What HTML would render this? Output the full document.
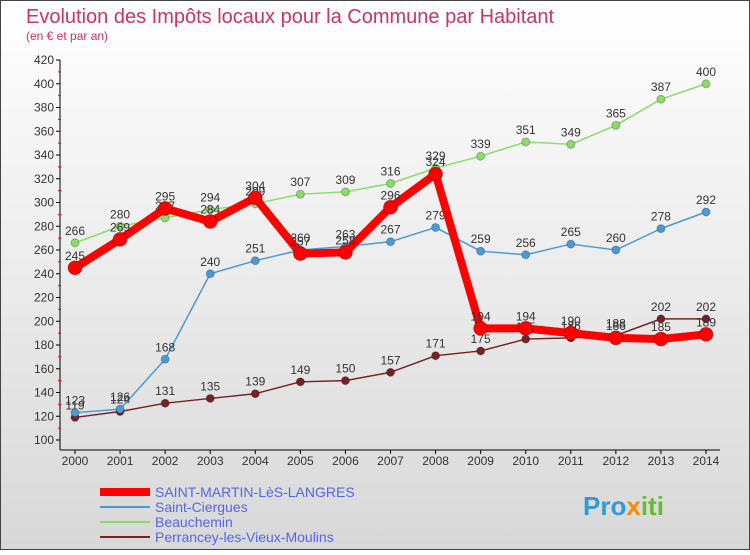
<!DOCTYPE html>
<html><head><meta charset="utf-8"><style>
body{margin:0;width:750px;height:550px;overflow:hidden;font-family:"Liberation Sans",sans-serif}
</style></head><body>
<svg width="750" height="550" xmlns="http://www.w3.org/2000/svg">
<defs><linearGradient id="bg" x1="0" y1="0" x2="0" y2="1"><stop offset="0" stop-color="#ffffff"/><stop offset="1" stop-color="#d8d8d8"/></linearGradient></defs>
<rect x="0.5" y="0.5" width="749" height="549" fill="url(#bg)" stroke="#444"/>
<text x="26" y="23" font-size="20" fill="#cc3366">Evolution des Impôts locaux pour la Commune par Habitant</text>
<text x="26" y="40" font-size="12" fill="#cc3366">(en € et par an)</text>
<g id="axes"></g><g id="series"></g>
<g>
<line x1="100" y1="492" x2="150" y2="492" stroke="#ff0000" stroke-width="8"/><text x="155" y="497" font-size="14" fill="#5566ee">SAINT-MARTIN-LèS-LANGRES</text>
<line x1="100" y1="507" x2="150" y2="507" stroke="#4a9ad8" stroke-width="2"/><text x="155" y="512" font-size="14" fill="#5566ee">Saint-Ciergues</text>
<line x1="100" y1="522" x2="150" y2="522" stroke="#88dd66" stroke-width="2"/><text x="155" y="527" font-size="14" fill="#5566ee">Beauchemin</text>
<line x1="100" y1="537" x2="150" y2="537" stroke="#772222" stroke-width="2"/><text x="155" y="542" font-size="14" fill="#5566ee">Perrancey-les-Vieux-Moulins</text>
</g>
<text x="583" y="515" font-size="26" font-weight="bold" fill="#3399dd">Pro<tspan fill="#ff8800">x</tspan><tspan fill="#66bb33">iti</tspan></text>
</svg>
<script>
const years=[2000,2001,2002,2003,2004,2005,2006,2007,2008,2009,2010,2011,2012,2013,2014];
const yTicks=[100,120,140,160,180,200,220,240,260,280,300,320,340,360,380,400,420];
const sml=[245,269,295,284,304,257,258,296,324,194,194,190,186,185,189];
const ciergues=[123,126,168,240,251,260,263,267,279,259,256,265,260,278,292];
const beauchemin=[266,280,287,294,299,307,309,316,329,339,351,349,365,387,400];
const perrancey=[119,124,131,135,139,149,150,157,171,175,185,186,188,202,202];
const NS="http://www.w3.org/2000/svg";
const X=i=>75+i*(706-75)/14, Y=v=>440-(v-100)*380/320;
function mk(t,a,p){const e=document.createElementNS(NS,t);for(const k in a)e.setAttribute(k,a[k]);p.appendChild(e);return e;}
const ax=document.getElementById('axes');
const yl=mk('line',{x1:60,y1:60,x2:60,y2:450,stroke:'#000'},ax);
const xl=mk('line',{x1:60,y1:450,x2:720,y2:450,stroke:'#000'},ax);
yTicks.forEach(v=>{const y=Y(v);mk('line',{x1:56,y1:y,x2:60,y2:y,stroke:'#000'},ax);
 if(v<420)mk('line',{x1:58,y1:y-11.9,x2:61,y2:y-11.9,stroke:'#e00'},ax);
 const t=mk('text',{x:54,y:y+4,'font-size':12,'text-anchor':'end',fill:'#333'},ax);t.textContent=v;
 });
years.forEach((yr,i)=>{const t=mk('text',{x:X(i),y:465,'font-size':12,'text-anchor':'middle',fill:'#333'},ax);t.textContent=yr;
 
 mk('line',{x1:X(i),y1:450,x2:X(i),y2:454,stroke:'#000'},ax);});
const sg=document.getElementById('series');
function draw(vals,color,w,r,name){const g=mk('g',{},sg);
 mk('polyline',{points:vals.map((v,i)=>X(i)+','+Y(v)).join(' '),fill:'none',stroke:color,'stroke-width':w,'stroke-linejoin':'round'},g);
 vals.forEach((v,i)=>{const c=mk('circle',{cx:X(i),cy:Y(v),r:r,fill:color,stroke:'rgba(0,0,0,0.25)'},g);
  const t=mk('text',{x:X(i),y:Y(v)-8,'font-size':12,'text-anchor':'middle',fill:'#333'},g);t.textContent=v;});}
draw(perrancey,'#772222',1.5,4,'series-perrancey');
draw(beauchemin,'#88dd66',1.5,4,'series-beauchemin');
draw(ciergues,'#4a9ad8',1.5,4,'series-saint-ciergues');
draw(sml,'#ff0000',8,7,'series-saint-martin');
</script>
</body></html>
